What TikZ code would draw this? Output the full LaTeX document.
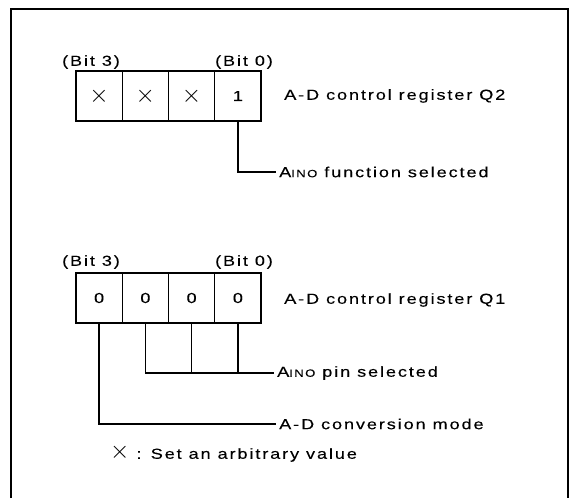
\documentclass[tikz,border=0pt]{standalone}
\usepackage{fontspec}
\setmainfont[FakeStretch=1.25, LetterSpace=13, FakeBold=0.15]{Liberation Sans}
\newcommand{\ainosub}{A{\fontsize{10.5}{10.5}\selectfont INO}}
\newcommand{\cross}{{\fontsize{23}{23}\selectfont$\times$}}
\begin{document}
\begin{tikzpicture}[
    x=1pt, y=-1pt,
    frame/.style={line width=2.4pt, draw=black},
    cell/.style={draw=black, line width=1.3pt, minimum width=46.25pt,
        minimum height=50pt, inner sep=0pt, font=\fontsize{14.5}{14.5}\selectfont},
    bitlabel/.style={font=\fontsize{14.5}{14.5}\selectfont, inner sep=0pt},
    desc/.style={anchor=west, inner sep=3pt, font=\fontsize{14.5}{14.5}\selectfont},
    conn/.style={line width=1.3pt, draw=black}
]
\useasboundingbox (0,0) rectangle (570,498);

% outer frame (open at the bottom)
\draw[frame] (11,498) -- (11,9) -- (568,9) -- (568,498);

%------------------------------------------------
% register Q2
%------------------------------------------------
\node[bitlabel] (q2hi) at (91,62) {(Bit 3)};
\node[bitlabel] (q2lo) at (244,62) {(Bit 0)};

\node[cell] (q2b3) at (99.1,96) {\cross};
\node[cell] (q2b2) at (145.4,96) {\cross};
\node[cell] (q2b1) at (191.6,96) {\cross};
\node[cell] (q2b0) at (237.9,96) {1};

\node[desc] (q2name) at (281,96) {A-D control register Q2};
\node[desc] (ainofunc) at (276,172) {\ainosub\ function selected};

\draw[conn] (q2b0.south) |- (ainofunc.west);

%------------------------------------------------
% register Q1
%------------------------------------------------
\node[bitlabel] (q1hi) at (91,262) {(Bit 3)};
\node[bitlabel] (q1lo) at (244,262) {(Bit 0)};

\node[cell] (q1b3) at (99.1,298) {0};
\node[cell] (q1b2) at (145.4,298) {0};
\node[cell] (q1b1) at (191.6,298) {0};
\node[cell] (q1b0) at (237.9,298) {0};

\node[desc] (q1name) at (281,300) {A-D control register Q1};
\node[desc] (ainopin) at (274,373) {\ainosub\ pin selected};
\node[desc] (convmode) at (276,424) {A-D conversion mode};

\draw[conn] (q1b2.south) |- (ainopin.west);
\draw[conn] (q1b1.south) -- (q1b1.south |- ainopin.west);
\draw[conn] (q1b0.south) -- (q1b0.south |- ainopin.west);
\draw[conn] (q1b3.south) |- (convmode.west);

% note
\node[desc] (note) at (107,453) {\cross\ : Set an arbitrary value};

\end{tikzpicture}
\end{document}
